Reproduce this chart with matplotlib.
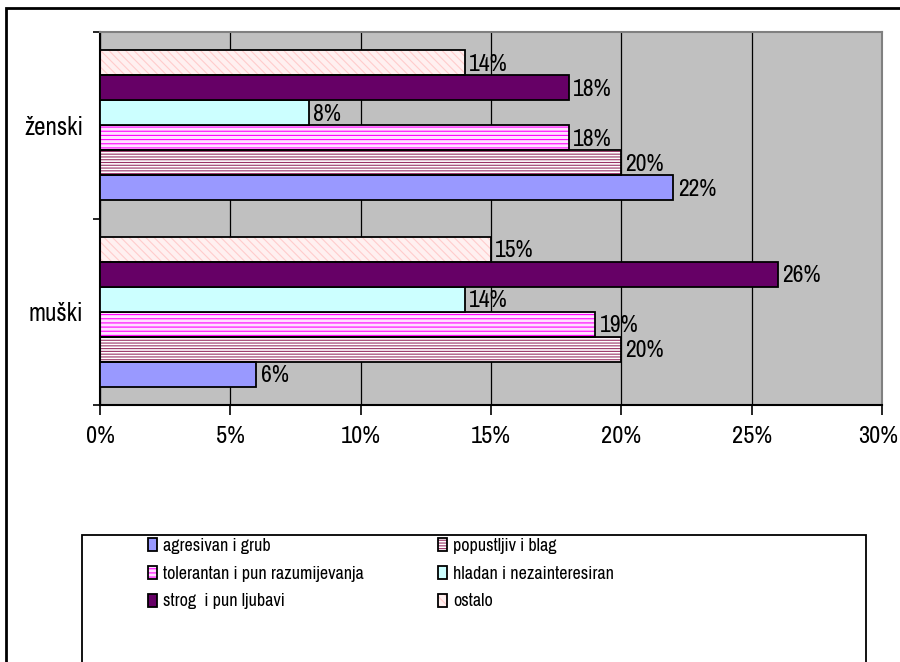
import matplotlib
matplotlib.use("Agg")
import matplotlib.pyplot as plt
import matplotlib.transforms as mtransforms
from matplotlib.patches import Rectangle, Patch
from matplotlib.ticker import FixedLocator, NullFormatter, FixedFormatter
import numpy as np

categories = ["muški", "ženski"]
series = ["agresivan i grub", "popustljiv i blag", "tolerantan i pun razumijevanja",
          "hladan i nezainteresiran", "strog  i pun ljubavi", "ostalo"]
agresivan = [6, 22]
popustljiv = [20, 20]
tolerantan = [19, 18]
hladan = [14, 8]
strog = [26, 18]
ostalo = [15, 14]
values = [agresivan, popustljiv, tolerantan, hladan, strog, ostalo]
xticks = [0, 5, 10, 15, 20, 25, 30]

faces = ["#9999FF", "#FFFFFF", "#FFE0FF", "#CCFFFF", "#660066", "#FFF0F0"]
hatches = [None, "------", "----", None, None, "\\\\\\\\"]
hatch_cols = [None, "#993366", "#FF00FF", None, None, "#FFCCCC"]

plt.rcParams['font.family'] = ['Archivo Narrow', 'Liberation Sans', 'DejaVu Sans']
plt.rcParams['hatch.linewidth'] = 0.8

fig = plt.figure(figsize=(9, 6.62), dpi=100)
ax = fig.add_axes([100/900, 1-405/662, 782/900, 373/662])
ax.set_facecolor("#C0C0C0")

h = 0.134
y = np.arange(len(categories))
handles = []
for i, vals in enumerate(values):
    pos = y - 2.5*h + i*h
    if hatches[i]:
        ax.barh(pos, vals, height=h, color=faces[i], hatch=hatches[i],
                edgecolor=hatch_cols[i], linewidth=0, zorder=2)
        ax.barh(pos, vals, height=h, fill=False, edgecolor='black', linewidth=1.3, zorder=3)
        handles.append((Patch(facecolor=faces[i], hatch=hatches[i], edgecolor=hatch_cols[i], lw=0),
                        Patch(fill=False, edgecolor='black', lw=1.3)))
    else:
        ax.barh(pos, vals, height=h, color=faces[i], edgecolor='black', linewidth=1.3, zorder=3)
        handles.append(Patch(facecolor=faces[i], edgecolor='black', lw=1.3))
    for p, v in zip(pos, vals):
        ax.annotate(f"{v}%", (v, p), xytext=(3, -1), textcoords='offset points',
                    va='center', ha='left', fontsize=17)

ax.set_xlim(0, 30)
ax.set_ylim(-0.5, 1.5)
ax.set_xticks(xticks)
ax.set_xticklabels([f"{t}%" for t in xticks], fontsize=17.5)
ax.tick_params(axis='x', length=7, width=1.2, pad=8, color='black')
# last label sits against the right edge, as in the original
last = ax.get_xticklabels()[-1]
last.set_transform(last.get_transform() + mtransforms.ScaledTranslation(-3/72, 0, fig.dpi_scale_trans))
ax.yaxis.set_major_locator(FixedLocator([-0.5, 0.5, 1.5]))
ax.yaxis.set_major_formatter(NullFormatter())
ax.yaxis.set_minor_locator(FixedLocator(list(y)))
ax.yaxis.set_minor_formatter(FixedFormatter(categories))
ax.tick_params(axis='y', which='major', length=5, width=1.2)
ax.tick_params(axis='y', which='minor', length=0, pad=12, labelsize=18)

ax.xaxis.grid(True, color='black', lw=0.9)
ax.set_axisbelow(True)
for s in ['left', 'bottom']:
    ax.spines[s].set_color('black')
    ax.spines[s].set_linewidth(1.5)
for s in ['top', 'right']:
    ax.spines[s].set_color('#808080')
    ax.spines[s].set_linewidth(1.5)

# outer frame and legend box
fig.patches.append(Rectangle((6/900, -0.05), 1.1, 1 - 8/662 + 0.05, transform=fig.transFigure,
                             fill=False, lw=2, ec='black'))
fig.patches.append(Rectangle((82/900, -0.05), 784/900, 1 - 535/662 + 0.05, transform=fig.transFigure,
                             fill=False, lw=1.3, ec='black'))

order = [0, 2, 4, 1, 3, 5]
fig.legend([handles[k] for k in order], [series[k] for k in order],
           loc='upper left', bbox_to_anchor=(148/900, 1 - 538/662), ncol=2, frameon=False,
           fontsize=13, handlelength=0.5, handleheight=0.75, handletextpad=0.35,
           columnspacing=4.1, labelspacing=0.65, borderpad=0, borderaxespad=0)

fig.savefig("out.png", dpi=100)
